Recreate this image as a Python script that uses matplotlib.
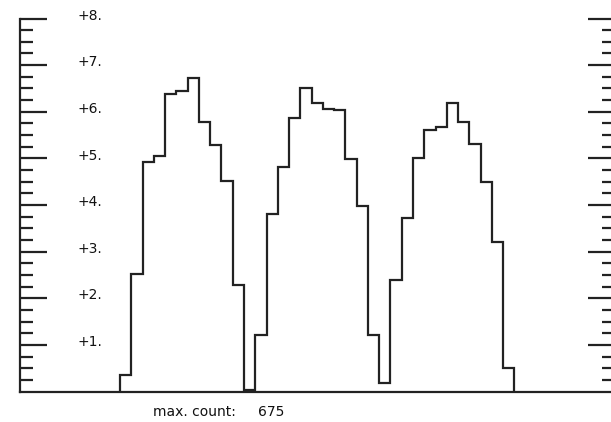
import matplotlib
matplotlib.use("Agg")
import matplotlib.pyplot as plt
import numpy as np

# histogram bin contents (in units of 100 counts), one per bin
counts = [0.35, 2.53, 4.92, 5.06, 6.38, 6.44, 6.73, 5.78, 5.29, 4.51, 2.28, 0.03,
          1.22, 3.80, 4.81, 5.86, 6.51, 6.18, 6.05, 6.04, 4.99, 3.98, 1.21, 0.19,
          2.39, 3.73, 5.01, 5.60, 5.67, 6.19, 5.78, 5.31, 4.49, 3.21, 0.50]
bin_edges = np.arange(len(counts) + 1)
y_ticks = [1, 2, 3, 4, 5, 6, 7, 8]
y_labels = ['+1.', '+2.', '+3.', '+4.', '+5.', '+6.', '+7.', '+8.']
max_count = 675

plt.rcParams['font.family'] = ['DejaVu Sans']

W, H = 611, 422
fig = plt.figure(figsize=(W / 100, H / 100), dpi=100)
x0, x1 = 20, 615
y0, y1 = 391.5, 18.5
ax = fig.add_axes([x0 / W, (H - y0) / H, (x1 - x0) / W, (y0 - y1) / H])

ax.stairs(counts, bin_edges, color='#222222', linewidth=1.6, baseline=0)

px = 11.27  # pixels per bin
ax.set_xlim(-(120 - x0) / px, (x1 - 120) / px)
ax.set_ylim(0, 8)

ax.spines['top'].set_visible(False)
for s in ['left', 'right', 'bottom']:
    ax.spines[s].set_linewidth(1.6)
    ax.spines[s].set_color('#222222')

ax.set_xticks([])
ax.set_yticks(y_ticks)
ax.set_yticks(np.arange(0.25, 8, 0.25), minor=True)
ax.set_yticklabels([])
ax.tick_params(axis='y', which='major', direction='in', length=19.5, width=1.6,
               color='#222222', left=True, right=True)
ax.tick_params(axis='y', which='minor', direction='in', length=9.5, width=1.6,
               color='#222222', left=True, right=True)

for v, lab in zip(y_ticks, y_labels):
    ax.text((78 - x0) / (x1 - x0), v + 0.06, lab, transform=ax.get_yaxis_transform(),
            ha='left', va='center', fontsize=10, color='#111111')

fig.text(153 / W, 1 - 412.5 / H, 'max. count:', ha='left', va='center',
         fontsize=10, color='#111111')
fig.text(258 / W, 1 - 412.5 / H, str(max_count), ha='left', va='center',
         fontsize=10, color='#111111')

fig.savefig('out.png', dpi=100)
